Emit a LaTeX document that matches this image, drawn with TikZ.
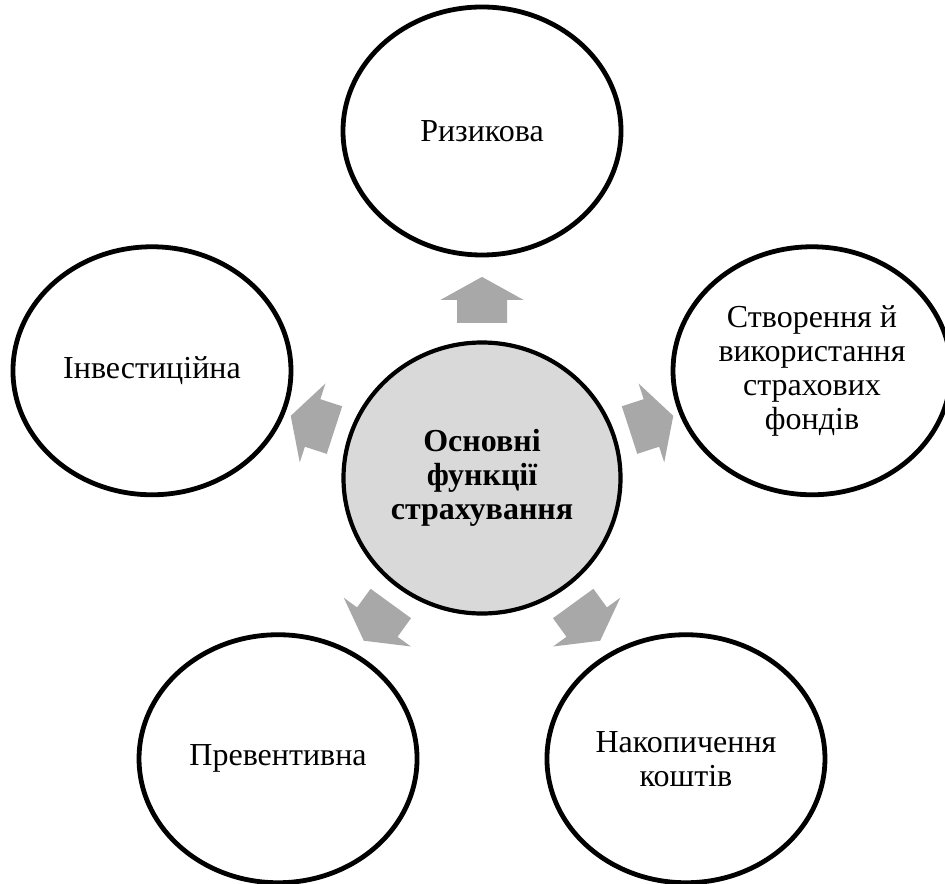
\documentclass[tikz,border=0pt]{standalone}
\usepackage{fontspec}
\setmainfont{Liberation Serif}
\usetikzlibrary{shapes.geometric,calc}

\definecolor{arrowgray}{RGB}{168,168,168}
\definecolor{centergray}{RGB}{217,217,217}

\begin{document}
\begin{tikzpicture}[x=0.5pt, y=0.5pt,
    func/.style={ellipse, draw, line width=2.4pt, minimum width=139pt, minimum height=124pt,
        inner sep=0pt, align=center, font=\fontsize{16}{17}\selectfont},
    mainfunc/.style={func, fill=centergray, line width=2.1pt, minimum width=138.5pt,
        minimum height=135.5pt, font=\bfseries\fontsize{16}{17}\selectfont},
    blockarrow/.pic={\fill[arrowgray] (0,-25) -- (23,-25) -- (23,-41.5) -- (46,0) -- (23,41.5) -- (23,25) -- (0,25) -- cycle;}]

    \useasboundingbox (-482,-405) rectangle (463,478);

	% Central node
	\node[mainfunc] (main) at (0,0) {Основні\\функції\\страхування};

	% Functions
	\node[func] (risk) at (90:347) {Ризикова};
	\node[func] (fund) at (18:347) {Створення й\\використання\\страхових\\фондів};
	\node[func] (accum) at (-54:347) {Накопичення\\коштів};
	\node[func] (prev) at (-126:347) {Превентивна};
	\node[func] (inv) at (162:347) {Інвестиційна};

	% Arrows
	\foreach \n/\a in {risk/90, fund/18, accum/-54, prev/-126, inv/162}
		\pic[rotate=\a] at ($(main)!0.447!(\n)$) {blockarrow};

\end{tikzpicture}
\end{document}
